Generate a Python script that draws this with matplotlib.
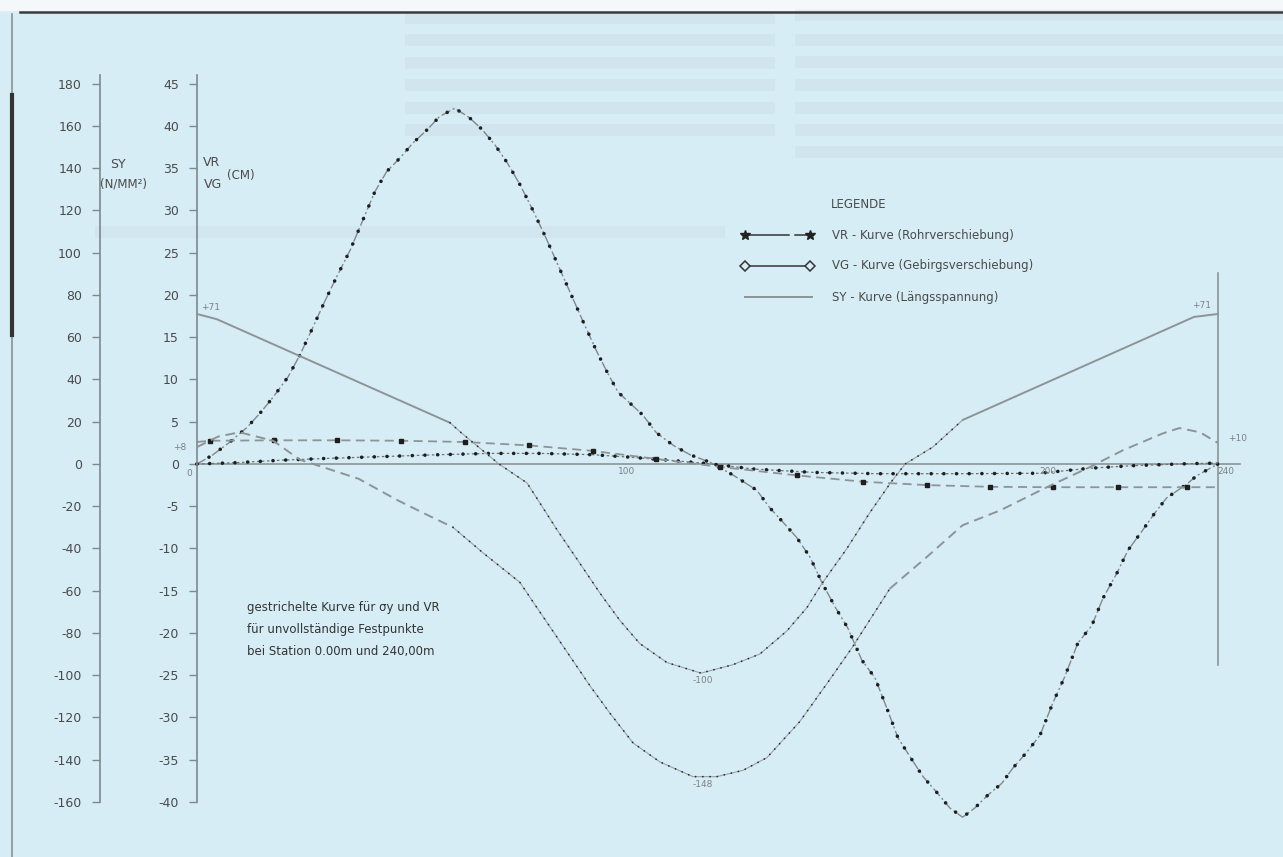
import numpy as np
import matplotlib
matplotlib.use('Agg')
import matplotlib.pyplot as plt
from matplotlib.lines import Line2D
from matplotlib.patches import Rectangle

plt.rcParams['axes.unicode_minus'] = False

# station in m, VR / VG in cm, SY in N/mm^2
vr_s = [0, 3.5, 7.5, 11.7, 14.8, 17.9, 21.4, 24.2, 27, 30, 32.8, 36, 38.7, 41.8, 44.6,
        47.7, 50.8, 54, 57, 60.6, 64, 67, 70, 73, 76, 79, 82, 85, 88, 91, 94, 96.5, 99,
        102, 104.8, 108, 112, 115.9, 120.6, 126, 131.6, 134.7, 137.8, 141, 144.1, 146.9,
        150, 153, 156.3, 159.4, 162.2, 164.8, 168.1, 170.7, 174, 177, 180, 182.9, 185.9,
        189.2, 191.8, 195.1, 198.2, 201.2, 204, 207.1, 210.4, 213, 216.3, 218.9, 222.1,
        225.2, 228, 232.7, 235, 240]
vr_v = [0, 1.0, 2.5, 4.3, 6.0, 7.9, 10.3, 12.9, 15.9, 19.2, 22.1, 25.3, 28.5, 32.2, 34.6,
        36.2, 38.0, 39.5, 41.1, 42.1, 41.0, 39.6, 37.8, 35.6, 33.0, 30.0, 26.8, 23.4, 20.0,
        16.6, 13.3, 10.8, 8.5, 7.1, 5.8, 3.7, 2.2, 1.1, 0.2, -1.3, -3.1, -5.2, -6.9, -8.7,
        -11.0, -14.0, -16.9, -19.4, -23.2, -25.3, -28.9, -32.4, -35.0, -37.0, -38.9, -40.7,
        -41.8, -40.7, -39.2, -37.8, -36.0, -34.1, -32.1, -28.3, -25.2, -21.2, -19.1, -15.9,
        -12.9, -10.2, -8.0, -5.8, -4.0, -2.4, -1.4, 0]

d_s = [0, 9, 20, 30, 42, 57, 69, 81, 93, 102, 112, 120, 131, 145, 160, 180, 198, 210, 220, 234, 240]
d_v = [0, 0.15, 0.45, 0.65, 0.85, 1.1, 1.25, 1.25, 1.1, 0.8, 0.4, 0.05, -0.6, -1.0, -1.15,
       -1.15, -1.1, -0.5, -0.2, 0.05, 0.1]

e_s = [0, 3, 18, 33, 48, 63, 78, 93, 108, 123, 141, 156.6, 171.6, 186.4, 201.2, 216.5, 232.7, 240]
e_v = [2.6, 2.75, 2.8, 2.8, 2.75, 2.6, 2.2, 1.55, 0.6, -0.35, -1.35, -2.1, -2.5, -2.7,
       -2.75, -2.75, -2.75, -2.75]

sy_s = [0, 4.7, 59.5, 62, 66.5, 71, 77.6, 84.6, 90, 94.7, 99.4, 104.1, 110.5, 118.5, 126,
        132.3, 138.7, 143.4, 146.8, 152.8, 158.2, 163.4, 166.5, 173, 180, 234.4, 240]
sy_v = [71, 68.5, 19.5, 15, 7.5, 0, -9, -31, -47, -61, -74, -85, -94, -99, -95, -90, -79,
        -68, -57, -40, -23, -8, 0, 8, 20.8, 69.6, 71]

syd_s = [0, 5, 10, 17.9, 24.2, 29.6, 38, 47, 53, 60.2, 67.2, 75.9, 80.6, 87, 92.4, 97.1,
         102.5, 108.8, 116.6, 122.2, 128.4, 134, 141.7, 148.8, 154, 162.9, 171.6, 180,
         188.8, 199.8, 209.9, 217.7, 227.1, 231, 235.8, 240]
syd_v = [8, 13, 15, 11, 2, -1.5, -7, -17, -23, -30, -42, -56, -70, -89, -105, -118, -132,
         -141, -148, -148, -145, -139, -122, -102, -87, -59, -44, -29, -22, -11, -1.5, 6.5,
         14.5, 17, 15, 10]

sy_ticks = list(range(-160, 181, 20))
vr_ticks = list(range(-40, 46, 5))

W, H = 1283, 857
def fx(px):
    return px / W
def fy(py):
    return 1 - py / H

bg = '#d7edf5'
axcol = '#7d8a90'
txt = '#4a4a4a'
gray = '#8c9498'

fig = plt.figure(figsize=(12.83, 8.57), dpi=100)
fig.patch.set_facecolor(bg)

# page edges and faint show-through of the scan
fig.patches.append(Rectangle((0, fy(10)), 1, 10 / H, transform=fig.transFigure, color='#f4f8fa', zorder=0))
fig.add_artist(Line2D([fx(20), 1], [fy(12)] * 2, color='#3c3c3c', lw=1.8))
fig.add_artist(Line2D([fx(12)] * 2, [fy(14), 0], color='#8a9296', lw=1.2))
fig.add_artist(Line2D([fx(12)] * 2, [fy(95), fy(335)], color='#333333', lw=3))
for yy in [18, 40, 63, 85, 108, 130]:
    fig.patches.append(Rectangle((fx(405), fy(yy + 6)), fx(370), 12 / H, transform=fig.transFigure,
                                 color='#6a7478', alpha=0.06, lw=0))
for yy in [15, 40, 62, 85, 108, 130, 152]:
    fig.patches.append(Rectangle((fx(795), fy(yy + 6)), fx(488), 12 / H, transform=fig.transFigure,
                                 color='#6a7478', alpha=0.06, lw=0))
fig.patches.append(Rectangle((fx(95), fy(238)), fx(630), 12 / H, transform=fig.transFigure,
                             color='#6a7478', alpha=0.05, lw=0))

ax = fig.add_axes([fx(197), fy(802), (1245 - 197) / W, (802 - 75) / H])
ax.set_xlim(0, 246.4)
ax.set_ylim(-40, 46.03)
ax.patch.set_alpha(0)
for sp in ['top', 'right', 'bottom']:
    ax.spines[sp].set_visible(False)
ax.spines['left'].set_color(axcol)
ax.spines['left'].set_linewidth(1.2)
ax.set_xticks([])
ax.set_yticks(vr_ticks)
ax.tick_params(axis='y', direction='out', length=6, width=1, color=axcol,
               labelcolor=txt, labelsize=9, pad=7)

ax2 = ax.twinx()
ax2.set_ylim(-160, 4 * 46.03)
for sp in ['top', 'right', 'bottom']:
    ax2.spines[sp].set_visible(False)
ax2.spines['left'].set_visible(True)
ax2.spines['left'].set_position(('outward', 97 * 0.72))
ax2.spines['left'].set_color(axcol)
ax2.spines['left'].set_linewidth(1.2)
ax2.yaxis.set_ticks_position('left')
ax2.set_yticks(sy_ticks)
ax2.tick_params(axis='y', direction='out', length=6, width=1, color=axcol,
                labelcolor=txt, labelsize=9, pad=7)

# reference lines
ax.axhline(0, xmin=0, xmax=(1240 - 197) / 1048, color=gray, lw=1.2)
ax.axvline(240, ymin=(40 - 23.8) / 86.03, ymax=(40 + 22.6) / 86.03, color=gray, lw=1.2)

# SY solid (ends solid, middle dotted)
sy_s = np.array(sy_s)
sy_v = np.array(sy_v)
a = sy_s <= 59.5
b = sy_s >= 180
m = (sy_s >= 59.5) & (sy_s <= 180)
ax2.plot(sy_s[a], sy_v[a], color=gray, lw=1.4, clip_on=False)
ax2.plot(sy_s[b], sy_v[b], color=gray, lw=1.4, clip_on=False)
ax2.plot(sy_s[m], sy_v[m], color='#9aa2a6', lw=0.8, clip_on=False)
ax2.plot(sy_s[m], sy_v[m], color='#2a2a2a', lw=1.3, ls=(0, (0.01, 4)), dash_capstyle='round', clip_on=False)

# SY dashed (incomplete fixed points)
syd_s = np.array(syd_s)
syd_v = np.array(syd_v)
a = syd_s <= 60.2
b = syd_s >= 162.9
m = (syd_s >= 60.2) & (syd_s <= 162.9)
ax2.plot(syd_s[a], syd_v[a], color=gray, lw=1.4, ls=(0, (5, 3)), clip_on=False)
ax2.plot(syd_s[b], syd_v[b], color=gray, lw=1.4, ls=(0, (5, 3)), clip_on=False)
ax2.plot(syd_s[m], syd_v[m], color='#9aa2a6', lw=0.8, clip_on=False)
ax2.plot(syd_s[m], syd_v[m], color='#2a2a2a', lw=1.3, ls=(0, (0.01, 4)), dash_capstyle='round', clip_on=False)

# VR
ax.plot(vr_s, vr_v, color='#80888c', lw=1.0, ls=(0, (7, 2, 1.5, 2)), clip_on=False)
ax.plot(vr_s, vr_v, color='#1e1e1e', lw=2.6, ls=(0, (0.01, 3.8)), dash_capstyle='round', clip_on=False)

# curve near zero with dense marks
ax.plot(d_s, d_v, color='#6c7478', lw=0.9, ls=(0, (2, 2)), clip_on=False)
ax.plot(d_s, d_v, color='#1e1e1e', lw=2.6, ls=(0, (0.01, 3.5)), dash_capstyle='round', clip_on=False)

# dashed curve with sparse marks
ax.plot(e_s, e_v, color=gray, lw=1.3, ls=(0, (5, 3)), clip_on=False)
ax.plot(e_s, e_v, ls='none', marker='s', ms=3.5, color='#1e1e1e',
        markevery=list(range(1, len(e_s) - 1)), clip_on=False)

# value labels
lab = dict(fontsize=6.5, color='#7a8286')
ax2.text(1, 72, '+71', va='bottom', **lab)
ax2.text(234, 73, '+71', va='bottom', **lab)
ax2.text(-2.5, 8, '+8', ha='right', va='center', **lab)
ax2.text(242.5, 12, '+10', va='center', **lab)
ax2.text(119, -100.5, '-100', ha='center', va='top', **lab)
ax2.text(119, -149.5, '-148', ha='center', va='top', **lab)
ax.text(-1.2, -0.6, '0', ha='right', va='top', **lab)
ax.text(101, -0.4, '100', ha='center', va='top', **lab)
ax.text(200, -0.3, '200', ha='center', va='top', **lab)
ax.text(242, -0.3, '240', ha='center', va='top', **lab)

# axis titles
fig.text(fx(110), fy(165), 'SY', fontsize=9, color=txt, va='center')
fig.text(fx(100), fy(184), '(N/MM²)', fontsize=8.5, color=txt, va='center')
fig.text(fx(203), fy(163), 'VR', fontsize=9, color=txt, va='center')
fig.text(fx(204), fy(185), 'VG', fontsize=9, color=txt, va='center')
fig.text(fx(227), fy(175), '(CM)', fontsize=8.5, color=txt, va='center')

# legend
fig.text(fx(831), fy(204), 'LEGENDE', fontsize=8.5, color=txt, va='center')
fig.add_artist(Line2D([fx(745), fx(789)], [fy(235)] * 2, color='#333', lw=1.1))
fig.add_artist(Line2D([fx(795), fx(808)], [fy(235)] * 2, color='#333', lw=1.1))
fig.add_artist(Line2D([fx(745), fx(810)], [fy(235)] * 2, ls='none', marker='*', ms=7, color='#222'))
fig.add_artist(Line2D([fx(745), fx(810)], [fy(266)] * 2, color='#333', lw=1.1, marker='D', ms=5,
                      mfc=bg, mec='#333', mew=1.1))
fig.add_artist(Line2D([fx(745), fx(812)], [fy(297)] * 2, color=gray, lw=1.4))
fig.text(fx(832), fy(235), 'VR - Kurve (Rohrverschiebung)', fontsize=8.5, color=txt, va='center')
fig.text(fx(832), fy(266), 'VG - Kurve (Gebirgsverschiebung)', fontsize=8.5, color=txt, va='center')
fig.text(fx(832), fy(297), 'SY - Kurve (Längsspannung)', fontsize=8.5, color=txt, va='center')

# note
note = ['gestrichelte Kurve für σy und VR',
        'für unvollständige Festpunkte',
        'bei Station 0.00m und 240,00m']
for i, t in enumerate(note):
    fig.text(fx(247), fy(608 + 22 * i), t, fontsize=8.5, color='#333', va='center')

fig.savefig('out.png', dpi=100, facecolor=fig.get_facecolor())
